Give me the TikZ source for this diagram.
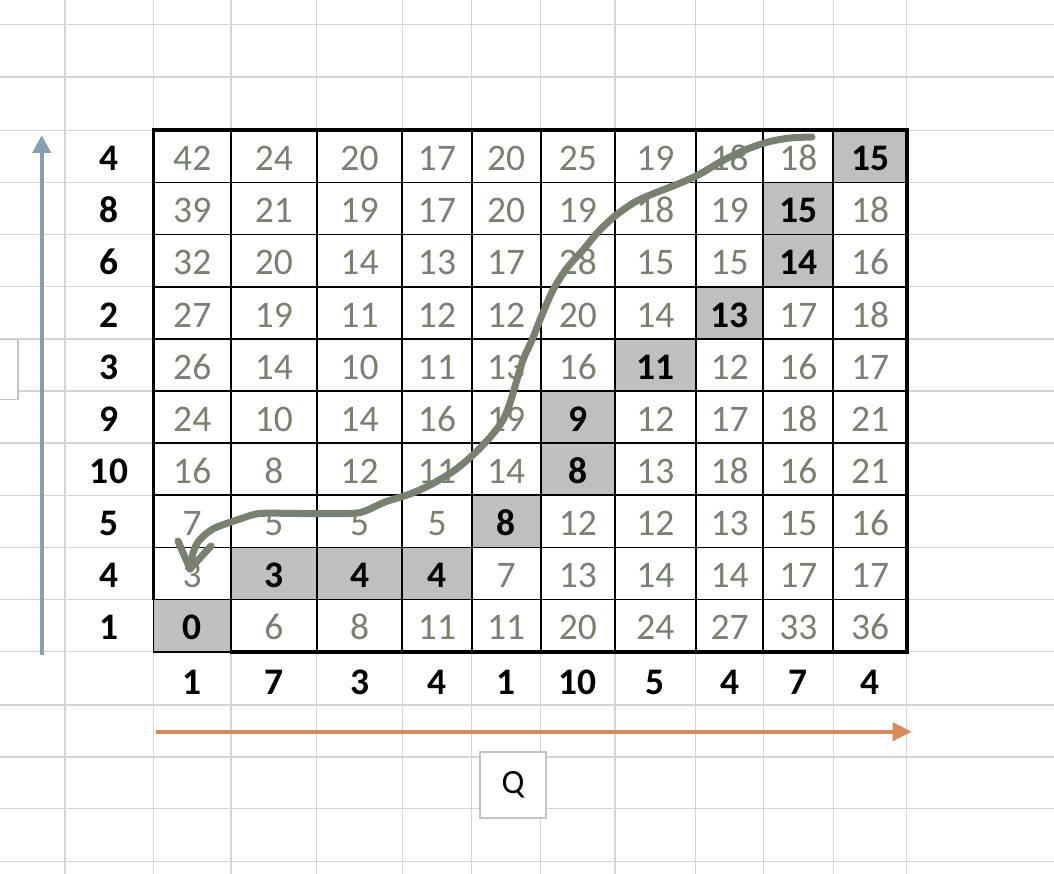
\documentclass[tikz,border=0pt]{standalone}
\usepackage{fontspec}
\setmainfont{Carlito}
\usetikzlibrary{arrows.meta}
\definecolor{gridgray}{RGB}{212,212,212}
\definecolor{numgray}{RGB}{120,128,112}
\definecolor{shade}{RGB}{191,191,191}
\definecolor{axisblue}{RGB}{137,158,176}
\definecolor{axisorange}{RGB}{218,137,88}
\definecolor{boxgray}{RGB}{195,195,195}
\definecolor{pathgreen}{RGB}{120,128,112}
\begin{document}
\begin{tikzpicture}[x=1pt,y=-1pt,
  gridline/.style={draw=gridgray, line width=1.5pt},
  cellline/.style={draw=black, line width=1.8pt},
  tableborder/.style={draw=black, line width=3.6pt, line join=miter},
  celltext/.style={font=\fontsize{37.5}{37.5}\selectfont, inner sep=0pt, text height=28.5pt, text depth=0pt},
  celln/.style={celltext, text=numgray},
  cellb/.style={celltext, text=black, fill=shade, font=\fontsize{37.5}{37.5}\selectfont\bfseries},
  axislabel/.style={celltext, text=black, font=\fontsize{37.5}{37.5}\selectfont\bfseries},
  smallbox/.style={draw=boxgray, fill=white, line width=1.5pt, inner sep=0pt},
  qtext/.style={font=\fontsize{34}{34}\selectfont},
  pathline/.style={draw=pathgreen, line width=7pt, line cap=round, line join=round},
  axisarrow/.style={line width=4pt}
]
\useasboundingbox (0,0) rectangle (1054,874);
\fill[white] (0,0) rectangle (1054,874);
\def\XS{{153.5,231,316.7,402.3,471.7,540.7,615,695.7,763.3,833.3,906.7}}
\def\YT{130.3}
\def\RH{52.14}
% spreadsheet grid
\foreach \gx in {65,153.5,231,316.7,402.3,471.7,540.7,615,695.7,763.3,833.3,906.7}
  \draw[gridline] (\gx,0) -- (\gx,874);
\foreach \gy in {24.5,77,705,757,808.5,861.5}
  \draw[gridline] (0,\gy) -- (1054,\gy);
\foreach \k in {0,...,10}
  \draw[gridline] (0,{\YT+\RH*\k}) -- (1054,{\YT+\RH*\k});
% table cells
\foreach \vals [count=\r] in {
  {42/n,24/n,20/n,17/n,20/n,25/n,19/n,18/n,18/n,15/b},
  {39/n,21/n,19/n,17/n,20/n,19/n,18/n,19/n,15/b,18/n},
  {32/n,20/n,14/n,13/n,17/n,28/n,15/n,15/n,14/b,16/n},
  {27/n,19/n,11/n,12/n,12/n,20/n,14/n,13/b,17/n,18/n},
  {26/n,14/n,10/n,11/n,13/n,16/n,11/b,12/n,16/n,17/n},
  {24/n,10/n,14/n,16/n,19/n,9/b,12/n,17/n,18/n,21/n},
  {16/n,8/n,12/n,11/n,14/n,8/b,13/n,18/n,16/n,21/n},
  {7/n,5/n,5/n,5/n,8/b,12/n,12/n,13/n,15/n,16/n},
  {3/n,3/b,4/b,4/b,7/n,13/n,14/n,14/n,17/n,17/n},
  {0/b,6/n,8/n,11/n,11/n,20/n,24/n,27/n,33/n,36/n}}
{
  \foreach \v/\s [count=\c] in \vals {
    \pgfmathsetmacro\xa{\XS[\c-1]}
    \pgfmathsetmacro\xb{\XS[\c]}
    \pgfmathsetmacro\xc{(\xa+\xb)/2}
    \pgfmathsetmacro\cellw{\xb-\xa}
    \pgfmathsetmacro\yc{\YT+\RH*(\r-0.5)}
    \node[cell\s, minimum width=\cellw pt, minimum height=\RH pt] (cell-\r-\c) at (\xc,\yc) {\v};
  }
}
% inner table lines
\foreach \c in {1,...,9} {
  \pgfmathsetmacro\xa{\XS[\c]}
  \draw[cellline] (\xa,\YT) -- (\xa,{\YT+\RH*10});
}
\foreach \k in {1,...,9}
  \draw[cellline] (153.5,{\YT+\RH*\k}) -- (906.7,{\YT+\RH*\k});
\draw[cellline] (153.5,{\YT+\RH*9}) -- (153.5,{\YT+\RH*10}) -- (231,{\YT+\RH*10});
\draw[tableborder] (153.5,{\YT+\RH*9}) -- (153.5,\YT) -- (906.7,\YT) -- (906.7,{\YT+\RH*10}) -- (229.5,{\YT+\RH*10});
% row labels
\foreach \v [count=\r] in {4,8,6,2,3,9,10,5,4,1} {
  \pgfmathsetmacro\yc{\YT+\RH*(\r-0.5)}
  \node[axislabel] (rowlab-\r) at (109,\yc) {\v};
}
% column labels
\foreach \v [count=\c] in {1,7,3,4,1,10,5,4,7,4} {
  \pgfmathsetmacro\xa{\XS[\c-1]}
  \pgfmathsetmacro\xb{\XS[\c]}
  \pgfmathsetmacro\xc{(\xa+\xb)/2}
  \node[axislabel] (collab-\c) at (\xc,680) {\v};
}
% axis arrows
\coordinate (ybot) at (41.7,655);
\coordinate (ytop) at (41.7,135);
\draw[axisarrow, draw=axisblue, -{Triangle[length=18pt,width=18pt]}, color=axisblue] (ybot) -- (ytop);
\coordinate (xleft) at (156,731.7);
\coordinate (xright) at (911.7,731.7);
\draw[axisarrow, draw=axisorange, -{Triangle[length=19pt,width=18pt]}, color=axisorange] (xleft) -- (xright);
% boxes
\node[smallbox, minimum width=21pt, minimum height=60pt] (pbox) at (7.5,369.3) {};
\node[smallbox, minimum width=66pt, minimum height=66pt, qtext] (qbox) at (513,785) {Q};
% hand-drawn path
\coordinate (pathstart) at (812,137);
\coordinate (pathend) at (190,569);
\coordinate (leftarm) at (178,541);
\coordinate (rightarm) at (211,546);
\draw[pathline] plot[smooth, tension=0.5] coordinates {
 (812,137) (790,138) (768,142) (745,150) (722,161) (700,174) (678,184) (655,193)
 (635,202) (615,216) (598,232) (583,250) (567,268) (553,290) (542,315) (532,340)
 (523,360) (516,383) (510,403) (503,420) (492,435) (476,452) (455,470) (432,484)
 (410,494) (385,502) (365,511) (350,513.5) (300,513.5) (260,513.5) (240,519)
 (217,527) (207,533) (198,542) (193,553) (190,569)};
\draw[pathline] (leftarm) -- (pathend);
\draw[pathline] (rightarm) -- (pathend);
\end{tikzpicture}
\end{document}
